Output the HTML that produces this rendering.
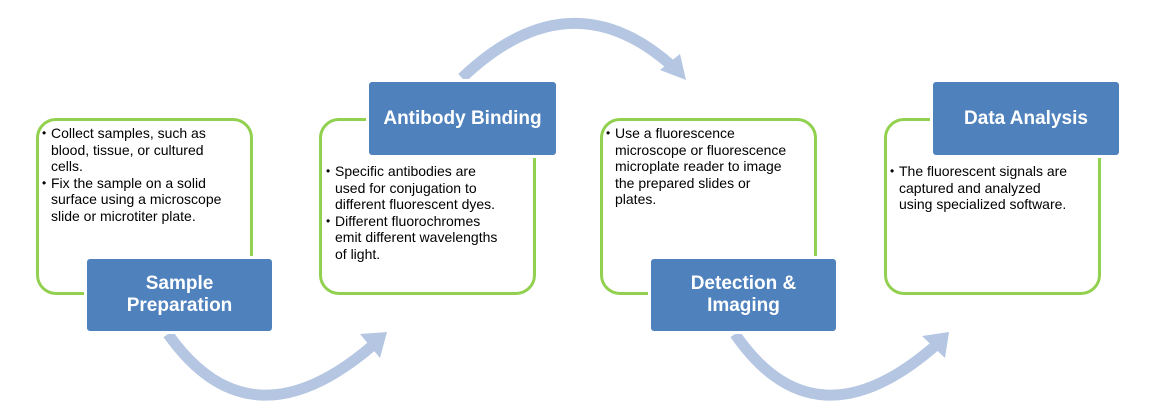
<!DOCTYPE html>
<html><head><style>
body{margin:0;width:1150px;height:414px;background:#fff;position:relative;overflow:hidden;font-family:"Liberation Sans",Arial,sans-serif;}
.g{position:absolute;border:3px solid #92d050;border-radius:20px;width:211px;height:171px;box-sizing:content-box;background:#fff}
.b{position:absolute;background:#4f81bd;color:#fff;font-weight:bold;font-size:19px;text-align:center;border:3px solid #fff;border-radius:6px;display:flex;align-items:center;justify-content:center;line-height:22px;box-sizing:border-box}
ul{position:absolute;margin:0;padding:0 0 0 9px;font-size:14px;line-height:16.5px;color:#000;list-style:none;white-space:nowrap}
li{position:relative}
li:before{content:"•";position:absolute;left:-9px;font-size:12px}
svg{position:absolute;left:0;top:0}
</style></head><body>
<svg width="1150" height="414">
<g fill="none" stroke="#b4c6e2" stroke-width="11">
<path d="M168 334 Q 250 450 372 346"/>
<path d="M462 78 Q 570 -25 672 66"/>
<path d="M735 334 Q 815 450 935 346"/>
</g>
<g fill="#b4c6e2">
<polygon points="360,334 387,332 380,358"/>
<polygon points="660,70 686,80 680,54"/>
<polygon points="922,336 949,332 945,358"/>
</g>
</svg>
<div class="g" style="left:36px;top:118px"></div>
<div class="g" style="left:319px;top:118px"></div>
<div class="g" style="left:600px;top:118px"></div>
<div class="g" style="left:884px;top:118px"></div>
<div class="b" style="left:84px;top:256px;width:191px;height:78px">Sample<br>Preparation</div>
<div class="b" style="left:366px;top:79px;width:193px;height:79px">Antibody Binding</div>
<div class="b" style="left:648px;top:256px;width:191px;height:78px">Detection &amp;<br>Imaging</div>
<div class="b" style="left:930px;top:79px;width:192px;height:79px">Data Analysis</div>
<ul style="left:42px;top:125px"><li>Collect samples, such as<br>blood, tissue, or cultured<br>cells.</li><li>Fix the sample on a solid<br>surface using a microscope<br>slide or microtiter plate.</li></ul>
<ul style="left:326px;top:163px"><li>Specific antibodies are<br>used for conjugation to<br>different fluorescent dyes.</li><li>Different fluorochromes<br>emit different wavelengths<br>of light.</li></ul>
<ul style="left:606px;top:125px"><li>Use a fluorescence<br>microscope or fluorescence<br>microplate reader to image<br>the prepared slides or<br>plates.</li></ul>
<ul style="left:890px;top:163px"><li>The fluorescent signals are<br>captured and analyzed<br>using specialized software.</li></ul>
</body></html>
